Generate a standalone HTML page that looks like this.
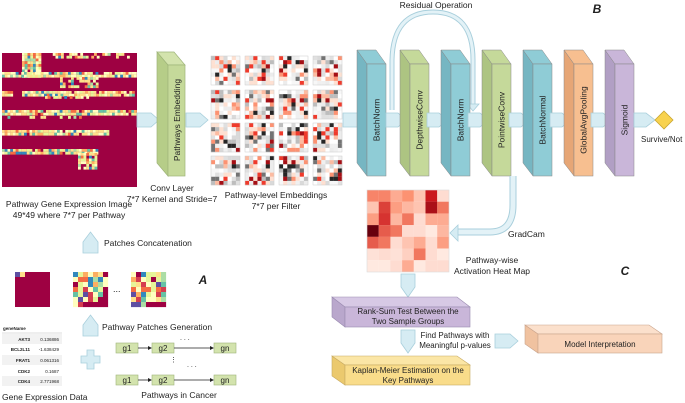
<!DOCTYPE html>
<html><head><meta charset="utf-8"><style>
html,body{margin:0;padding:0;background:#fff;width:685px;height:403px;overflow:hidden}
svg{display:block}
text{font-family:"Liberation Sans",sans-serif;fill:#222}
</style></head><body>
<svg id="s" width="685" height="403" viewBox="0 0 685 403" xmlns="http://www.w3.org/2000/svg">
<defs>
<g id="arrR"><path d="M0,-7 L14,-7 L22,0 L14,7 L0,7 Z" fill="#d6ecf3" stroke="#a9cfdc" stroke-width="0.8"/></g>
</defs>
<g id="bigimg"></g>
<g id="emb"></g>
<g id="heat"></g>
<g id="patches"></g>

<text x="69" y="207" font-size="8.5" text-anchor="middle">Pathway Gene Expression Image</text>
<text x="69" y="218" font-size="8.5" text-anchor="middle">49*49 where 7*7 per Pathway</text>
<use href="#arrR" x="137" y="120"/>
<polygon points="157,52 168,65 168,176 157,163" fill="#b6cd88" stroke="#9fb57a" stroke-width="0.7"/>
<polygon points="157,52 174,52 185,65 168,65" fill="#d3e3ad" stroke="#9fb57a" stroke-width="0.7"/>
<rect x="168" y="65" width="17" height="111" fill="#c5d99a" stroke="#9fb57a" stroke-width="0.7"/>
<text transform="translate(180,120) rotate(-90)" font-size="8.5" text-anchor="middle">Pathways Embedding</text>
<text x="172" y="191" font-size="8.5" text-anchor="middle">Conv Layer</text>
<text x="172" y="202" font-size="8.5" text-anchor="middle">7*7 Kernel and Stride=7</text>
<use href="#arrR" x="186" y="120"/>
<text x="276" y="198" font-size="8.5" text-anchor="middle">Pathway-level Embeddings</text>
<text x="276" y="209" font-size="8.5" text-anchor="middle">7*7 per Filter</text>
<use href="#arrR" x="343" y="120"/>

<path d="M392,110 L392,60 Q393,12 433,12 Q473,12 473,60 L473,104" fill="none" stroke="#a9cfdc" stroke-width="5"/>
<path d="M392,110 L392,60 Q393,12 433,12 Q473,12 473,60 L473,104" fill="none" stroke="#e3f2f7" stroke-width="3"/>
<path d="M467,104 L479,104 L473,111 Z" fill="#d6ecf3" stroke="#a9cfdc" stroke-width="0.8"/>
<text x="436" y="8" font-size="8.5" text-anchor="middle">Residual Operation</text>
<text x="597" y="13" font-size="12" font-weight="bold" font-style="italic" text-anchor="middle">B</text>

<g id="blocks"></g>
<polygon points="664,111 673,120 664,129 655,120" fill="#f8d24e" stroke="#c9a631" stroke-width="0.8"/>
<text x="641" y="142" font-size="8">Survive/Not</text>

<path d="M513,176 L513,205 Q513,232 490,232 L456,232" fill="none" stroke="#a9cfdc" stroke-width="7"/>
<path d="M513,176 L513,205 Q513,232 490,232 L456,232" fill="none" stroke="#e3f2f7" stroke-width="5"/>
<path d="M458,225 L450,233 L458,241 Z" fill="#d6ecf3" stroke="#a9cfdc" stroke-width="0.8"/>
<text x="508" y="237" font-size="8.5">GradCam</text>
<text x="492" y="263" font-size="8.5" text-anchor="middle">Pathway-wise</text>
<text x="492" y="274" font-size="8.5" text-anchor="middle">Activation Heat Map</text>
<text x="625" y="275" font-size="12" font-weight="bold" font-style="italic" text-anchor="middle">C</text>

<path d="M401,274 L415,274 L415,287 L408,297 L401,287 Z" fill="#d6ecf3" stroke="#a9cfdc" stroke-width="0.8"/>
<path d="M401,330 L415,330 L415,343 L408,353 L401,343 Z" fill="#d6ecf3" stroke="#a9cfdc" stroke-width="0.8"/>
<path d="M495,334 L510,334 L518,341 L510,348 L495,348 Z" fill="#d6ecf3" stroke="#a9cfdc" stroke-width="0.8"/>

<polygon points="332,297 345,307 345,327 332,317" fill="#b9a7cc" stroke="#9a8bb0" stroke-width="0.6"/>
<polygon points="332,297 457,297 470,307 345,307" fill="#d7c9e5" stroke="#9a8bb0" stroke-width="0.6"/>
<rect x="345" y="307" width="125" height="20" fill="#c9b6d9" stroke="#9a8bb0" stroke-width="0.6"/>
<text x="408" y="314" font-size="8" text-anchor="middle">Rank-Sum Test Between the</text>
<text x="408" y="324" font-size="8" text-anchor="middle">Two Sample Groups</text>
<text x="455" y="338" font-size="8" text-anchor="middle">Find Pathways with</text>
<text x="455" y="348" font-size="8" text-anchor="middle">Meaningful p-values</text>
<polygon points="332,356 345,365 345,385 332,376" fill="#ebc96e" stroke="#c7aa63" stroke-width="0.6"/>
<polygon points="332,356 457,356 470,365 345,365" fill="#fbe6a6" stroke="#c7aa63" stroke-width="0.6"/>
<rect x="345" y="365" width="125" height="20" fill="#f9dc8a" stroke="#c7aa63" stroke-width="0.6"/>
<text x="408" y="373" font-size="8" text-anchor="middle">Kaplan-Meier Estimation on the</text>
<text x="408" y="383" font-size="8" text-anchor="middle">Key Pathways</text>
<polygon points="525,325 538,334 538,353 525,344" fill="#f0c2a0" stroke="#c9a48d" stroke-width="0.6"/>
<polygon points="525,325 649,325 662,334 538,334" fill="#fbe0cc" stroke="#c9a48d" stroke-width="0.6"/>
<rect x="538" y="334" width="124" height="19" fill="#f9d4ba" stroke="#c9a48d" stroke-width="0.6"/>
<text x="600" y="347" font-size="8" text-anchor="middle">Model Interpretation</text>

<path d="M83,253 L83,242 L90.5,232 L98,242 L98,253 Z" fill="#d6ecf3" stroke="#a9cfdc" stroke-width="0.8"/>
<text x="104" y="246" font-size="8.5">Patches Concatenation</text>
<text x="113" y="292" font-size="9">...</text>
<text x="203" y="284" font-size="12" font-weight="bold" font-style="italic" text-anchor="middle">A</text>
<path d="M83,336 L83,325 L90.5,315 L98,325 L98,336 Z" fill="#d6ecf3" stroke="#a9cfdc" stroke-width="0.8"/>
<text x="102" y="330" font-size="8.5">Pathway Patches Generation</text>
<path d="M87,350 h7 v6 h6 v7 h-6 v6 h-7 v-6 h-6 v-7 h6 z" fill="#d6ecf3" stroke="#a9cfdc" stroke-width="0.8"/>
<g font-size="4.5">
<text x="3" y="330" font-weight="bold" font-size="4.5">geneName</text>
<line x1="2" y1="333" x2="62" y2="333" stroke="#bbb" stroke-width="0.6"/>
<rect x="2" y="334" width="60" height="10" fill="#f2f2f2"/>
<rect x="2" y="355" width="60" height="10" fill="#f2f2f2"/>
<rect x="2" y="376" width="60" height="10" fill="#f2f2f2"/>
<text x="30" y="341" text-anchor="end" font-weight="bold">AKT3</text><text x="59" y="341" text-anchor="end">0.136886</text>
<text x="30" y="351" text-anchor="end" font-weight="bold">BCL2L11</text><text x="59" y="351" text-anchor="end">-1.638429</text>
<text x="30" y="362" text-anchor="end" font-weight="bold">FRAT1</text><text x="59" y="362" text-anchor="end">0.061316</text>
<text x="30" y="373" text-anchor="end" font-weight="bold">CDK2</text><text x="59" y="373" text-anchor="end">0.1687</text>
<text x="30" y="383" text-anchor="end" font-weight="bold">CDK4</text><text x="59" y="383" text-anchor="end">2.771968</text>
</g>
<text x="2" y="400" font-size="8.5">Gene Expression Data</text>
<g id="path1"></g>
<text x="179" y="398" font-size="8.5" text-anchor="middle">Pathways in Cancer</text>
<text x="180" y="340" font-size="7">. . .</text>
<text x="187" y="367" font-size="7">. . .</text>
<text x="170" y="362" font-size="7">⋮</text>
</svg>
<script>
var NS="http://www.w3.org/2000/svg";
function el(p,t,a){var e=document.createElementNS(NS,t);for(var k in a)e.setAttribute(k,a[k]);document.getElementById(p).appendChild(e);return e;}
var seed=7;function rnd(){seed=(seed*16807)%2147483647;return (seed-1)/2147483646;}
el("bigimg","rect",{x:2,y:53,width:135,height:134,fill:"#9e0142"});
var yl=["#fee08b","#ffffbf","#e6f598","#fdae61","#abdda4","#66c2a5","#3288bd","#f46d43","#fee08b","#ffffbf","#fee08b","#e6f598","#ffffbf","#fee08b"];
function band(x1,y1,x2,y2,dens){var c=2.75;for(var y=y1;y<y2-0.5;y+=c)for(var x=x1;x<x2-0.5;x+=c){if(rnd()<dens){el("bigimg","rect",{x:x,y:y,width:c+0.1,height:c+0.1,fill:yl[Math.floor(rnd()*yl.length)]});}}}
band(22,53,40,77,0.95);band(50,53,130,57,0.6);band(2,72,135,77,0.95);band(60,77,98,86,0.75);
band(2,91,13,95,0.95);band(22,91,135,96,0.95);band(45,96,100,99,0.5);
band(2,110,135,116,0.95);band(2,116,80,119,0.4);band(2,130,108,134,0.95);band(2,149,97,153,0.95);band(78,153,97,168,0.9);
var ec=["#ffffff","#f0f0f0","#e0e0e0","#d9d9d9","#bdbdbd","#fcbba1","#fc9272","#ef3b2c","#a50f15","#252525","#737373","#fee0d2","#f7f7f7","#ffffff","#ececec","#fde0d0"];
[211,245,279,313].forEach(function(gx){[56,90,123,156].forEach(function(gy){for(var i=0;i<7;i++)for(var j=0;j<7;j++)el("emb","rect",{x:gx+j*4.15,y:gy+i*4.15,width:4.25,height:4.25,fill:ec[Math.floor(rnd()*ec.length)]});el("emb","rect",{x:gx,y:gy,width:29,height:29,fill:"none",stroke:"#ccc","stroke-width":0.5});});});
var hm=[[.45,.45,.3,.4,.2,.85,.1],[.2,.7,.35,.25,.2,.9,.5],[.35,.75,.25,.5,.1,.3,.3],[1,.6,.5,.1,.1,.05,.25],[.6,.5,.1,.2,.3,.1,.35],[.08,.1,.08,.15,.5,.1,.05],[.05,.05,.1,.3,.05,.1,.1]];
function red(v){var a=[255,245,240],b=[252,146,114],c=[203,24,29],d=[103,0,13];function m(p,q,t){return "rgb("+p.map(function(x,i){return Math.round(x+(q[i]-x)*t)}).join(",")+")";}if(v<.4)return m(a,b,v/.4);if(v<.85)return m(b,c,(v-.4)/.45);return m(c,d,(v-.85)/.15);}
for(var i=0;i<7;i++)for(var j=0;j<7;j++)el("heat","rect",{x:367+j*11.7,y:190+i*11.7,width:11.8,height:11.8,fill:red(hm[i][j])});
el("heat","rect",{x:367,y:190,width:82,height:82,fill:"none",stroke:"#ddd","stroke-width":0.6});
el("patches","rect",{x:15,y:272,width:35,height:35,fill:"#9e0142"});
el("patches","rect",{x:15,y:272,width:5,height:5,fill:"#5e4fa2"});el("patches","rect",{x:20,y:272,width:5,height:5,fill:"#fee08b"});
var pc=["#fee08b","#ffffbf","#e6f598","#abdda4","#66c2a5","#3288bd","#5e4fa2","#fdae61","#f46d43","#d53e4f","#9e0142","#e6f598","#ffffbf"];
[73,131].forEach(function(px,k){for(var i=0;i<7;i++)for(var j=0;j<7;j++){var f=pc[Math.floor(rnd()*pc.length)];if(k==0&&(i==6||j==6)&&i+j>8)f="#9e0142";if(k==1&&i==6&&j>2)f="#9e0142";el("patches","rect",{x:px+j*5,y:272+i*5,width:5.1,height:5.1,fill:f});}});
var bl=[[357,"#8fccd6","#76b6c2","BatchNorm"],[400,"#c5d99a","#adc482","DepthwiseConv"],[441,"#8fccd6","#76b6c2","BatchNorm"],[482,"#c5d99a","#adc482","PointwiseConv"],[523,"#8fccd6","#76b6c2","BatchNormal"],[564,"#f7bf90","#e6a676","GlobalAvgPooling"],[605,"#c9b6d9","#b19fc4","Sigmoid"]];
bl.forEach(function(b,k){var x=b[0];
if(k>0)el("blocks","path",{d:"M"+(x-14)+",113 L"+(x-2)+",113 L"+(x+7)+",120 L"+(x-2)+",127 L"+(x-14)+",127 Z",fill:"#d6ecf3",stroke:"#a9cfdc","stroke-width":0.8});
el("blocks","polygon",{points:x+",50 "+(x+10)+",64 "+(x+10)+",176 "+x+",163",fill:b[2],stroke:"#888","stroke-width":0.5});
el("blocks","polygon",{points:x+",50 "+(x+19)+",50 "+(x+29)+",64 "+(x+10)+",64",fill:b[1],stroke:"#888","stroke-width":0.5});
el("blocks","rect",{x:x+10,y:64,width:19,height:112,fill:b[1],stroke:"#888","stroke-width":0.5});
var t=el("blocks","text",{transform:"translate("+(x+22.5)+",120) rotate(-90)","font-size":8.5,"text-anchor":"middle"});t.textContent=b[3];});
el("blocks","path",{d:"M634,113 L646,113 L655,120 L646,127 L634,127 Z",fill:"#d6ecf3",stroke:"#a9cfdc","stroke-width":0.8});
[343,375].forEach(function(y){[[116,"g1"],[152,"g2"],[214,"gn"]].forEach(function(g){el("path1","rect",{x:g[0],y:y,width:22,height:10,fill:"#d3e3ad",stroke:"#9fb57a","stroke-width":0.6});var t=el("path1","text",{x:g[0]+11,y:y+8,"font-size":8,"text-anchor":"middle"});t.textContent=g[1];});
el("path1","line",{x1:138,y1:y+5,x2:149,y2:y+5,stroke:"#222","stroke-width":0.8});el("path1","polygon",{points:"152,"+(y+5)+" 148,"+(y+3)+" 148,"+(y+7),fill:"#222"});
el("path1","line",{x1:174,y1:y+5,x2:211,y2:y+5,stroke:"#222","stroke-width":0.8});el("path1","polygon",{points:"214,"+(y+5)+" 210,"+(y+3)+" 210,"+(y+7),fill:"#222"});});
</script>
</body></html>
